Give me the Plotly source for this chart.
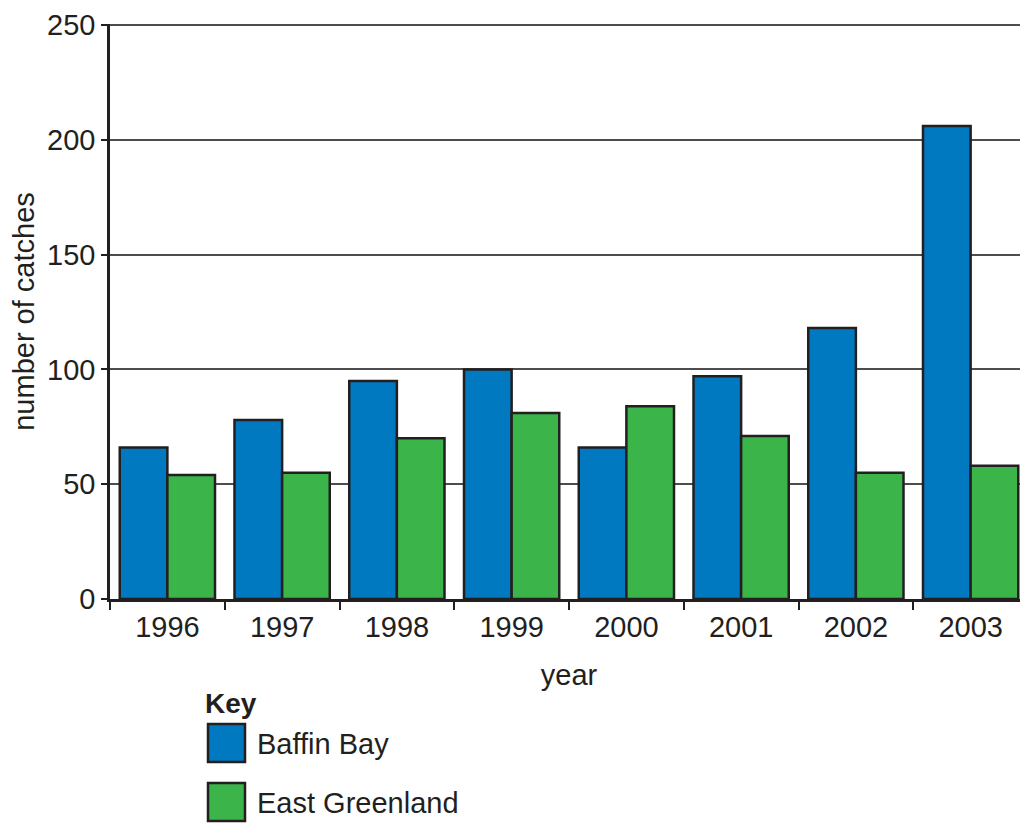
import plotly.graph_objects as go

years = ["1996", "1997", "1998", "1999", "2000", "2001", "2002", "2003"]
baffin_bay = [66, 78, 95, 100, 66, 97, 118, 206]
east_greenland = [54, 55, 70, 81, 84, 71, 55, 58]
y_ticks = [0, 50, 100, 150, 200, 250]

TXT = "#231f20"
BLUE = "#0079c1"
GREEN = "#3bb54a"
FONT = "Liberation Sans, Arial, sans-serif"
FS = 29

# page offset of 8px (browser body margin) is compensated here
OFF = 8
W, H = 1028 - OFF, 824 - OFF
ML, MR, MT, MB = 110 - OFF, 0, 16, 225
PW, PH = W - ML - MR, H - MT - MB

def px(x):
    return (x - OFF - ML) / PW

def py(y):
    return (H - MB - (y - OFF)) / PH

fig = go.Figure()
fig.add_trace(go.Bar(x=years, y=baffin_bay, name="Baffin Bay",
                     marker=dict(color=BLUE, line=dict(color=TXT, width=2.5))))
fig.add_trace(go.Bar(x=years, y=east_greenland, name="East Greenland",
                     marker=dict(color=GREEN, line=dict(color=TXT, width=2.5))))

shapes = []
annotations = [dict(text="<b>Key</b>", x=px(203), y=py(703), xref="paper", yref="paper",
                    xanchor="left", yanchor="middle", showarrow=False,
                    font=dict(size=FS - 1, color=TXT, family=FONT))]
for name, col, top in [("Baffin Bay", BLUE, 724), ("East Greenland", GREEN, 783)]:
    shapes.append(dict(type="rect", xref="paper", yref="paper",
                       x0=px(208), x1=px(245), y0=py(top + 38), y1=py(top),
                       fillcolor=col, line=dict(color=TXT, width=2.5)))
    annotations.append(dict(text=name, x=px(255), y=py(top + 20), xref="paper", yref="paper",
                            xanchor="left", yanchor="middle", showarrow=False,
                            font=dict(size=FS, color=TXT, family=FONT)))

fig.update_layout(
    width=W, height=H,
    margin=dict(l=ML, r=MR, t=MT, b=MB, autoexpand=False),
    paper_bgcolor="white", plot_bgcolor="white",
    barmode="group", bargap=0.17, bargroupgap=0,
    showlegend=False,
    font=dict(family=FONT, size=FS, color=TXT),
    shapes=shapes, annotations=annotations,
    xaxis=dict(
        type="category", range=[-0.5, 7.5],
        showline=True, linecolor=TXT, linewidth=2.5,
        ticks="outside", tickson="boundaries", ticklen=8, tickwidth=2, tickcolor=TXT,
        showgrid=False,
        tickfont=dict(size=FS, color=TXT),
        title=dict(text="year", font=dict(size=FS, color=TXT), standoff=24),
    ),
    yaxis=dict(
        range=[0, 250.45], tickvals=y_ticks,
        showline=True, linecolor=TXT, linewidth=2.5,
        ticks="outside", ticklen=6, tickwidth=2, tickcolor=TXT,
        showgrid=True, gridcolor="#4d4d4f", gridwidth=1.5,
        zeroline=False, ticklabeloverflow="allow",
        tickfont=dict(size=FS, color=TXT),
        title=dict(text="number of catches", font=dict(size=FS, color=TXT), standoff=8),
    ),
)

fig.write_html("out.html")
